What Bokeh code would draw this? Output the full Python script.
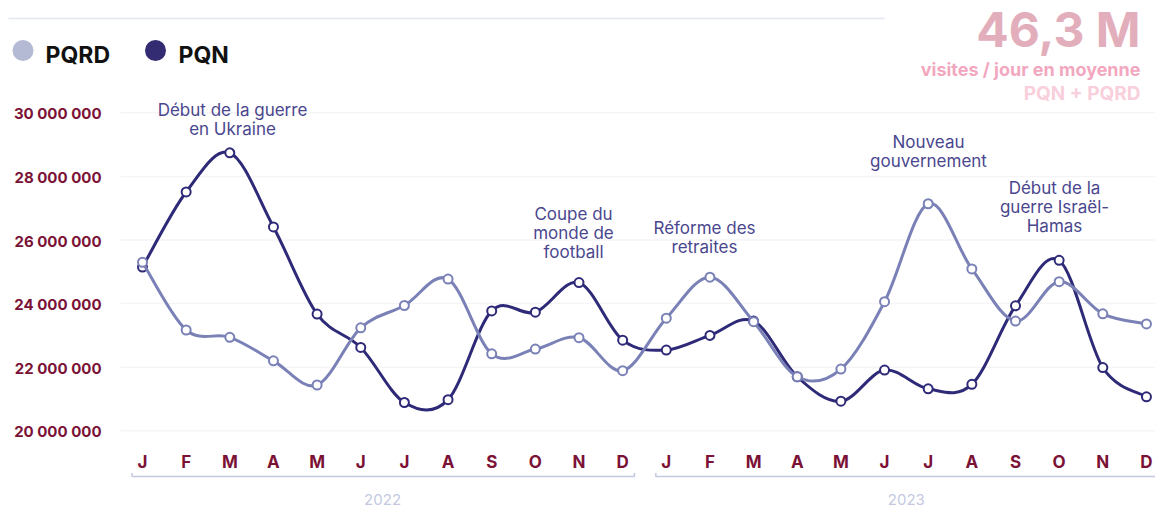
from bokeh.plotting import figure
from bokeh.models import Range1d, ColumnDataSource
from bokeh.core.properties import value
from bokeh.embed import file_html
from bokeh.resources import INLINE

# ---------------- data ----------------
months = ["J", "F", "M", "A", "M", "J", "J", "A", "S", "O", "N", "D"]
years = ["2022", "2023"]
series_names = ["PQRD", "PQN"]

pqrd = [25300000, 23170000, 22940000, 22200000, 21440000, 23240000, 23940000, 24770000,
        22420000, 22570000, 22930000, 21890000,
        23540000, 24830000, 23430000, 21700000, 21940000, 24060000, 27140000, 25090000,
        23450000, 24690000, 23680000, 23360000]
pqn = [25150000, 27510000, 28740000, 26410000, 23670000, 22620000, 20890000, 20980000,
       23770000, 23730000, 24660000, 22850000,
       22540000, 23000000, 23450000, 21700000, 20930000, 21910000, 21320000, 21460000,
       23930000, 25360000, 21990000, 21070000]

y_ticks = [20000000, 22000000, 24000000, 26000000, 28000000, 30000000]
y_tick_labels = ["20 000 000", "22 000 000", "24 000 000", "26 000 000", "28 000 000", "30 000 000"]

kpi_value = "46,3 M"
kpi_caption = "visites / jour en moyenne"
kpi_sub = "PQN + PQRD"

annotations = [
    ["Début de la guerre", "en Ukraine"],
    ["Coupe du", "monde de", "football"],
    ["Réforme des", "retraites"],
    ["Nouveau", "gouvernement"],
    ["Début de la", "guerre Israël-", "Hamas"],
]

# ---------------- layout helpers (screen pixels -> data) ----------------
W, H = 1155, 512
OFF = 0
X0_PAGE, DX = 142.0, 43.65
Y20_PAGE, DY_PER_M = 430.3, 31.8


def X(px):
    return (px - X0_PAGE) / DX


def Y(py):
    return (20 + (Y20_PAGE - py) / DY_PER_M) * 1e6


FONT = value("Inter")
MAROON = "#7b1236"
C_PQN = "#2e2a78"
C_PQRD = "#7a81b6"
ANN_COLOR = "#4a478e"

p = figure(width=W, height=H, output_backend="svg", toolbar_location=None,
           x_range=Range1d(X(OFF), X(OFF + W)), y_range=Range1d(Y(OFF + H), Y(OFF)),
           min_border=0, outline_line_color=None, background_fill_color="white",
           border_fill_color="white")
p.axis.visible = False
p.grid.visible = False

n = len(pqn)
xs = list(range(n))

# separator line at top
p.line(x=[X(8), X(884)], y=[Y(18), Y(18)], line_color="#e3e7f1", line_width=1.5)

# gridlines
p.segment(x0=[X(120)] * len(y_ticks), x1=[X(1160)] * len(y_ticks), y0=y_ticks, y1=y_ticks,
          line_color="#f5f5f8", line_width=1.5)

# y tick labels
p.text(x=[X(101)] * len(y_ticks), y=y_ticks, text=y_tick_labels, text_font=FONT,
       text_font_size="15px", text_font_style="bold", text_color=MAROON,
       text_align="right", text_baseline="middle", y_offset=1)

# month labels
month_labels = months * len(years)
p.text(x=xs, y=[Y(461.5)] * n, text=month_labels, text_font=FONT, text_font_size="17px",
       text_font_style="bold", text_color=MAROON, text_align="center", text_baseline="middle")

# year brackets + labels
bx, by = [], []
for k in range(len(years)):
    a = k * 12 - 0.24
    b = k * 12 + 11.27
    bx.append([a, a, b, b])
    by.append([Y(472.5), Y(476), Y(476), Y(472.5)])
p.multi_line(xs=bx, ys=by, line_color="#c4c9df", line_width=1.5)
p.text(x=[k * 12 + 5.5 for k in range(len(years))], y=[Y(499)] * len(years), text=years,
       text_font=FONT, text_font_size="15px", text_color="#c4c9df",
       text_align="center", text_baseline="middle")


def catmull(xv, yv):
    m = len(xv)
    out = dict(x0=[], y0=[], x1=[], y1=[], cx0=[], cy0=[], cx1=[], cy1=[])
    for i in range(m - 1):
        im1 = max(i - 1, 0)
        ip2 = min(i + 2, m - 1)
        out["x0"].append(xv[i]); out["y0"].append(yv[i])
        out["x1"].append(xv[i + 1]); out["y1"].append(yv[i + 1])
        out["cx0"].append(xv[i] + (xv[i + 1] - xv[im1]) / 6)
        out["cy0"].append(yv[i] + (yv[i + 1] - yv[im1]) / 6)
        out["cx1"].append(xv[i + 1] - (xv[ip2] - xv[i]) / 6)
        out["cy1"].append(yv[i + 1] - (yv[ip2] - yv[i]) / 6)
    return out


# PQN series (below)
p.bezier(source=ColumnDataSource(catmull(xs, pqn)), x0="x0", y0="y0", x1="x1", y1="y1",
         cx0="cx0", cy0="cy0", cx1="cx1", cy1="cy1", line_color=C_PQN, line_width=3)
p.scatter(x=xs, y=pqn, size=9, fill_color="white", line_color=C_PQN, line_width=2)
# PQRD series (on top)
p.bezier(source=ColumnDataSource(catmull(xs, pqrd)), x0="x0", y0="y0", x1="x1", y1="y1",
         cx0="cx0", cy0="cy0", cx1="cx1", cy1="cy1", line_color=C_PQRD, line_width=3)
p.scatter(x=xs, y=pqrd, size=9, fill_color="white", line_color=C_PQRD, line_width=2)

# annotations
ann_pos = [(232, 109.7), (573, 213), (704, 227), (928, 141.2), (1054, 187.8)]
ann_step = 19.0
ax, ay, at = [], [], []
for lines, (cx, cy) in zip(annotations, ann_pos):
    for j, line in enumerate(lines):
        ax.append(X(cx)); ay.append(Y(cy + j * ann_step)); at.append(line)
p.text(x=ax, y=ay, text=at, text_font=FONT, text_font_size="17px", text_color=ANN_COLOR,
       text_align="center", text_baseline="middle")

# legend
p.scatter(x=[X(22.5), X(155)], y=[Y(50)] * 2, size=21, fill_color=["#b5bad4", "#332c73"],
          line_color=None)
p.text(x=[X(45), X(178)], y=[Y(54)] * 2, text=series_names, text_font=FONT,
       text_font_size="23px", text_font_style="bold", text_color="#111111",
       text_align="left", text_baseline="middle")

# KPI block
p.text(x=[X(1140)], y=[Y(29)], text=[kpi_value], text_font=FONT, text_font_size="48px",
       text_font_style="bold", text_color="#e3aebc", text_align="right",
       text_baseline="middle")
p.text(x=[X(1140)], y=[Y(69)], text=[kpi_caption], text_font=FONT, text_font_size="18px",
       text_font_style="bold", text_color="#f2a7bf", text_align="right",
       text_baseline="middle")
p.text(x=[X(1140)], y=[Y(93)], text=[kpi_sub], text_font=FONT, text_font_size="19px",
       text_font_style="bold", text_color="#f8cfdb", text_align="right",
       text_baseline="middle")

open("out.html", "w").write(file_html(p, INLINE))
